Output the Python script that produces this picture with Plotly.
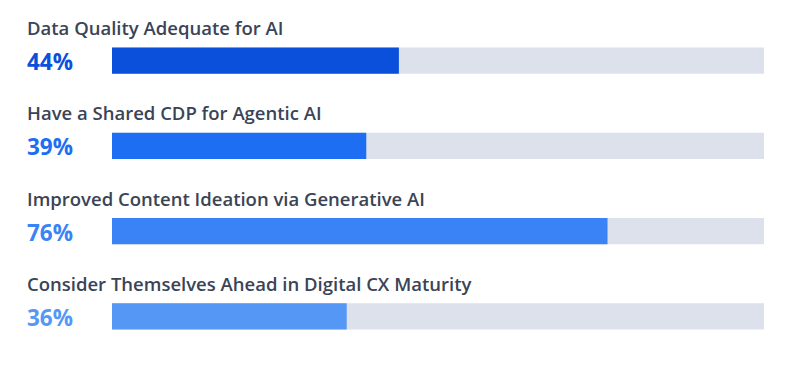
import plotly.graph_objects as go

categories = [
    "Data Quality Adequate for AI",
    "Have a Shared CDP for Agentic AI",
    "Improved Content Ideation via Generative AI",
    "Consider Themselves Ahead in Digital CX Maturity",
]
values = [44, 39, 76, 36]
track_max = [100, 100, 100, 100]
bar_colors = ["#0a50da", "#1d6ef2", "#3a83f6", "#5597f5"]
track_color = "#dde1eb"
title_color = "#3a4456"

fig = go.Figure()
fig.add_trace(go.Bar(
    y=categories, x=track_max, orientation="h",
    marker=dict(color=track_color, line=dict(width=0)),
    width=0.305, hoverinfo="skip", showlegend=False,
))
fig.add_trace(go.Bar(
    y=categories, x=values, orientation="h",
    marker=dict(color=bar_colors, line=dict(width=0)),
    width=0.305, hoverinfo="skip", showlegend=False,
))

annotations = []
for cat, val, col in zip(categories, values, bar_colors):
    annotations.append(dict(
        x=-0.1335, xref="paper", y=cat, yref="y",
        text=cat, showarrow=False, xanchor="left", yanchor="middle",
        yshift=33,
        font=dict(family="Open Sans", size=18.5, color=title_color, weight=600),
    ))
    annotations.append(dict(
        x=-0.1335, xref="paper", y=cat, yref="y",
        text=f"{val}%", showarrow=False, xanchor="left", yanchor="middle",
        yshift=-1,
        font=dict(family="Open Sans", size=22.5, color=col, weight=700),
    ))

fig.update_layout(
    width=800, height=365,
    margin=dict(l=104, r=44, t=10, b=14),
    barmode="overlay",
    plot_bgcolor="white", paper_bgcolor="white",
    xaxis=dict(range=[0, 100], visible=False, fixedrange=True),
    yaxis=dict(visible=False, categoryorder="array",
               categoryarray=categories, fixedrange=True,
               autorange=False, range=[3.5, -0.5]),
    annotations=annotations,
    showlegend=False,
)
fig.write_html("out.html")
